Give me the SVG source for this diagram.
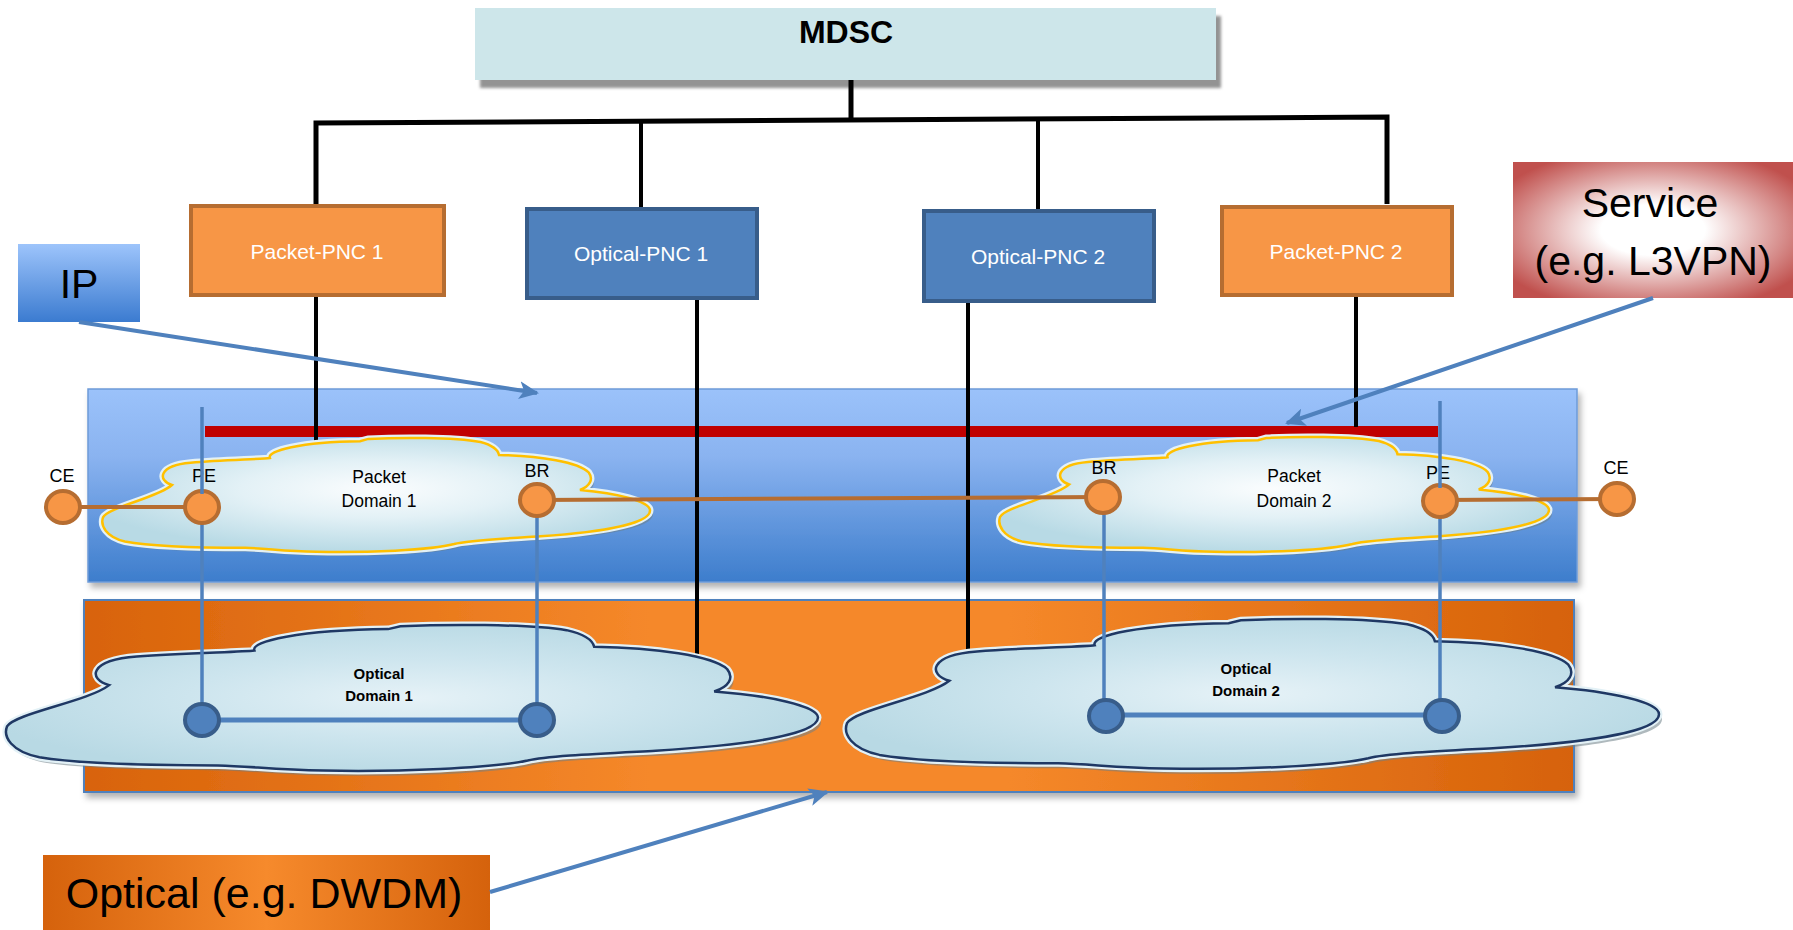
<svg xmlns="http://www.w3.org/2000/svg" xmlns:xlink="http://www.w3.org/1999/xlink" width="1793" height="930" viewBox="0 0 1793 930">
<style>
  text { font-family: "Liberation Sans", Arial, sans-serif; }
  .tree { fill: none; stroke: #000; stroke-width: 5; }
  .drop { fill: none; stroke: #000; stroke-width: 4; }
  .pnc-pkt { fill: #F79646; stroke: #B66D31; stroke-width: 4; }
  .pnc-opt { fill: #4F81BD; stroke: #385D8A; stroke-width: 4; }
  .pnc-text { fill: #fff; font-size: 21px; text-anchor: middle; }
  .pcloud { fill: url(#gPCloud); stroke: #FFC000; stroke-width: 2.5; }
  .ocloud { fill: url(#gOCloud); stroke: #1F3864; stroke-width: 2.5; }
  .cshadow { fill: #6E7F86; opacity: 0.55; stroke: none; }
  .chalo { fill: none; stroke: #E3F1F6; stroke-width: 7; }
  .onode { fill: #F79646; stroke: #B66D31; stroke-width: 4; }
  .bnode { fill: #4F81BD; stroke: #385D8A; stroke-width: 4; }
  .olink { stroke: #B66D31; stroke-width: 4; fill: none; }
  .blink { stroke: #4F81BD; stroke-width: 3.5; fill: none; }
  .blink2 { stroke: #4F81BD; stroke-width: 5; fill: none; }
  .lbl { font-size: 18px; fill: #000; text-anchor: middle; }
  .dom { font-size: 17.5px; fill: #000; text-anchor: middle; }
  .odom { font-size: 15px; font-weight: bold; fill: #000; text-anchor: middle; }
  .callout { stroke: #4F81BD; stroke-width: 4; fill: none; }
</style>
<defs>
  <filter id="fShadow" x="-5%" y="-20%" width="115%" height="150%">
    <feDropShadow dx="5" dy="8" stdDeviation="1.5" flood-color="#808080" flood-opacity="0.85"/>
  </filter>
  <filter id="fSoft" x="-5%" y="-10%" width="115%" height="130%">
    <feDropShadow dx="3" dy="5" stdDeviation="3" flood-color="#000" flood-opacity="0.3"/>
  </filter>
  <linearGradient id="gBlueLayer" x1="0" y1="0" x2="0" y2="1">
    <stop offset="0" stop-color="#9BC2FA"/>
    <stop offset="0.35" stop-color="#8AB3F0"/>
    <stop offset="1" stop-color="#3D7DCC"/>
  </linearGradient>
  <linearGradient id="gOrangeLayer" x1="0" y1="0" x2="1" y2="0">
    <stop offset="0" stop-color="#D8630A"/>
    <stop offset="0.38" stop-color="#F5882A"/>
    <stop offset="0.62" stop-color="#F5882A"/>
    <stop offset="1" stop-color="#D6620A"/>
  </linearGradient>
  <linearGradient id="gIP" x1="0" y1="0" x2="0" y2="1">
    <stop offset="0" stop-color="#9DC4FB"/>
    <stop offset="1" stop-color="#3B7BD0"/>
  </linearGradient>
  <linearGradient id="gOptLabel" x1="0" y1="0" x2="1" y2="0">
    <stop offset="0" stop-color="#D5620C"/>
    <stop offset="0.5" stop-color="#F68A2C"/>
    <stop offset="1" stop-color="#D5620C"/>
  </linearGradient>
  <radialGradient id="gService" cx="0.5" cy="0.5" r="0.62">
    <stop offset="0" stop-color="#FFFFFF"/>
    <stop offset="0.3" stop-color="#FFFFFF"/>
    <stop offset="1" stop-color="#C0504D"/>
  </radialGradient>
  <radialGradient id="gPCloud" cx="0.5" cy="0.45" r="0.55">
    <stop offset="0" stop-color="#FBFDFE"/>
    <stop offset="0.45" stop-color="#E3F1F6"/>
    <stop offset="1" stop-color="#B8DAE5"/>
  </radialGradient>
  <radialGradient id="gOCloud" cx="0.5" cy="0.5" r="0.55">
    <stop offset="0" stop-color="#E6F2F7"/>
    <stop offset="0.5" stop-color="#CDE5EE"/>
    <stop offset="1" stop-color="#B8D9E4"/>
  </radialGradient>
  <path id="cloud" vector-effect="non-scaling-stroke" d="M 126 409 C 100 370, 100 240, 160 215 C 220 190, 290 185, 305 174 C 300 110, 360 35, 470 28 L 485 8 C 540 -5, 640 -8, 690 35 C 710 60, 722 100, 724 148 C 800 155, 870 210, 888 300 C 897 360, 890 420, 872 452 C 940 480, 1000 550, 1000 630 C 1000 740, 920 815, 800 855 C 730 875, 665 890, 642 922 C 600 975, 480 1000, 390 990 C 330 985, 300 960, 260 955 C 180 955, 90 945, 40 900 C 5 860, -5 760, 0 690 C 10 600, 100 520, 126 409 Z"/>
  <marker id="arrow" markerUnits="userSpaceOnUse" markerWidth="22" markerHeight="18" refX="18" refY="9" orient="auto">
    <path d="M0,0 L20,9 L0,18 L5,9 Z" fill="#4F81BD"/>
  </marker>
</defs>

<rect width="1793" height="930" fill="#fff"/>

<!-- layers -->
<g id="ip-layer">
  <rect x="88" y="389" width="1489" height="193" fill="url(#gBlueLayer)" stroke="#6D9BD8" stroke-width="1.5" filter="url(#fSoft)"/>
</g>
<g id="optical-layer">
  <rect x="84" y="600" width="1490" height="192" fill="url(#gOrangeLayer)" stroke="#4F81BD" stroke-width="2" filter="url(#fSoft)"/>
</g>

<!-- service path -->
<g id="service-path">
  <rect x="205" y="426" width="1233" height="11" fill="#C00000"/>
</g>

<!-- MDSC -->
<g id="mdsc">
  <rect x="475" y="8" width="741" height="72" fill="#CDE6EA" filter="url(#fShadow)"/>
  <text x="846" y="43" font-size="32" font-weight="bold" text-anchor="middle" fill="#000">MDSC</text>
</g>

<!-- controller tree connectors -->
<g id="connectors">
  <path class="tree" d="M 851 80 L 851 120"/>
  <path class="tree" d="M 316 204 L 316 123 L 1387 117 L 1387 204"/>
  <path class="drop" d="M 641 122 L 641 208"/>
  <path class="drop" d="M 1038 119 L 1038 210"/>
  <path class="drop" d="M 316 296 L 316 442"/>
  <path class="drop" d="M 697 299 L 697 663"/>
  <path class="drop" d="M 968 302 L 968 657"/>
  <path class="drop" d="M 1356 296 L 1356 427"/>
</g>

<!-- PNCs -->
<g id="packet-pnc-1">
  <rect class="pnc-pkt" x="191" y="206" width="253" height="89"/>
  <text class="pnc-text" x="317" y="259">Packet-PNC 1</text>
</g>
<g id="optical-pnc-1">
  <rect class="pnc-opt" x="527" y="209" width="230" height="89"/>
  <text class="pnc-text" x="641" y="261">Optical-PNC 1</text>
</g>
<g id="optical-pnc-2">
  <rect class="pnc-opt" x="924" y="211" width="230" height="90"/>
  <text class="pnc-text" x="1038" y="264">Optical-PNC 2</text>
</g>
<g id="packet-pnc-2">
  <rect class="pnc-pkt" x="1222" y="207" width="230" height="88"/>
  <text class="pnc-text" x="1336" y="259">Packet-PNC 2</text>
</g>

<!-- clouds -->
<g id="optical-domain-1">
  <use href="#cloud" class="cshadow" transform="translate(10,630) scale(0.811,0.147)"/>
  <use href="#cloud" class="chalo" transform="translate(7,625) scale(0.811,0.147)"/>
  <use href="#cloud" class="ocloud" transform="translate(7,625) scale(0.811,0.147)"/>
  <text class="odom" x="379" y="679">Optical</text>
  <text class="odom" x="379" y="701">Domain 1</text>
</g>
<g id="optical-domain-2">
  <use href="#cloud" class="cshadow" transform="translate(850,624) scale(0.812,0.151)"/>
  <use href="#cloud" class="chalo" transform="translate(847,619) scale(0.812,0.151)"/>
  <use href="#cloud" class="ocloud" transform="translate(847,619) scale(0.812,0.151)"/>
  <text class="odom" x="1246" y="674">Optical</text>
  <text class="odom" x="1246" y="696">Domain 2</text>
</g>
<g id="packet-domain-1">
  <use href="#cloud" class="cshadow" transform="translate(106,442) scale(0.547,0.115)"/>
  <use href="#cloud" class="chalo" transform="translate(103,438) scale(0.547,0.115)"/>
  <use href="#cloud" class="pcloud" transform="translate(103,438) scale(0.547,0.115)"/>
  <text class="dom" x="379" y="483">Packet</text>
  <text class="dom" x="379" y="507">Domain 1</text>
</g>
<g id="packet-domain-2">
  <use href="#cloud" class="cshadow" transform="translate(1003,441) scale(0.549,0.116)"/>
  <use href="#cloud" class="chalo" transform="translate(1000,437) scale(0.549,0.116)"/>
  <use href="#cloud" class="pcloud" transform="translate(1000,437) scale(0.549,0.116)"/>
  <text class="dom" x="1294" y="482">Packet</text>
  <text class="dom" x="1294" y="507">Domain 2</text>
</g>

<!-- network links -->
<g id="links">
  <path class="blink" d="M 202 523 L 202 720"/>
  <path class="blink" d="M 537 517 L 537 720"/>
  <path class="blink" d="M 1104 514 L 1104 716"/>
  <path class="blink" d="M 1440 518 L 1440 716"/>
  <path class="blink2" d="M 202 720 L 537 720"/>
  <path class="blink2" d="M 1106 715 L 1442 715"/>
  <path class="olink" d="M 63 507 L 202 507"/>
  <path class="olink" d="M 537 500 L 1103 497"/>
  <path class="olink" d="M 1440 500 L 1617 499"/>
</g>

<!-- nodes -->
<g id="node-ce1"><ellipse class="onode" cx="63" cy="507" rx="17" ry="16"/><text class="lbl" x="62" y="482">CE</text></g>
<g id="node-pe1"><ellipse class="onode" cx="202" cy="507" rx="17" ry="16"/><text class="lbl" x="204" y="482">PE</text></g>
<g id="node-br1"><ellipse class="onode" cx="537" cy="500" rx="17" ry="16"/><text class="lbl" x="537" y="477">BR</text></g>
<g id="node-br2"><ellipse class="onode" cx="1103" cy="497" rx="17" ry="16"/><text class="lbl" x="1104" y="474">BR</text></g>
<g id="node-pe2"><ellipse class="onode" cx="1440" cy="501" rx="17" ry="16"/><text class="lbl" x="1438" y="479">PE</text></g>
<g id="node-ce2"><ellipse class="onode" cx="1617" cy="499" rx="17" ry="16"/><text class="lbl" x="1616" y="474">CE</text></g>
<g id="pe-risers">
  <path class="blink" d="M 202 407 L 202 494"/>
  <path class="blink" d="M 1440 401 L 1440 488"/>
</g>
<g id="node-o1a"><ellipse class="bnode" cx="202" cy="720" rx="17" ry="16"/></g>
<g id="node-o1b"><ellipse class="bnode" cx="537" cy="720" rx="17" ry="16"/></g>
<g id="node-o2a"><ellipse class="bnode" cx="1106" cy="716" rx="17" ry="16"/></g>
<g id="node-o2b"><ellipse class="bnode" cx="1442" cy="716" rx="17" ry="16"/></g>

<!-- callout labels -->
<g id="label-ip">
  <rect x="18" y="244" width="122" height="78" fill="url(#gIP)"/>
  <text x="79" y="298" font-size="41" text-anchor="middle" fill="#000">IP</text>
</g>
<g id="label-service">
  <rect x="1513" y="162" width="280" height="136" fill="url(#gService)"/>
  <text x="1650" y="217" font-size="41" text-anchor="middle" fill="#000">Service</text>
  <text x="1653" y="275" font-size="41" text-anchor="middle" fill="#000">(e.g. L3VPN)</text>
</g>
<g id="label-optical">
  <rect x="43" y="855" width="447" height="75" fill="url(#gOptLabel)"/>
  <text x="264" y="908" font-size="43" text-anchor="middle" fill="#000">Optical (e.g. DWDM)</text>
</g>
<g id="callouts">
  <path class="callout" d="M 79 322 L 537 393" marker-end="url(#arrow)"/>
  <path class="callout" d="M 1653 298 L 1287 423" marker-end="url(#arrow)"/>
  <path class="callout" d="M 490 892 L 827 792" marker-end="url(#arrow)"/>
</g>
</svg>
